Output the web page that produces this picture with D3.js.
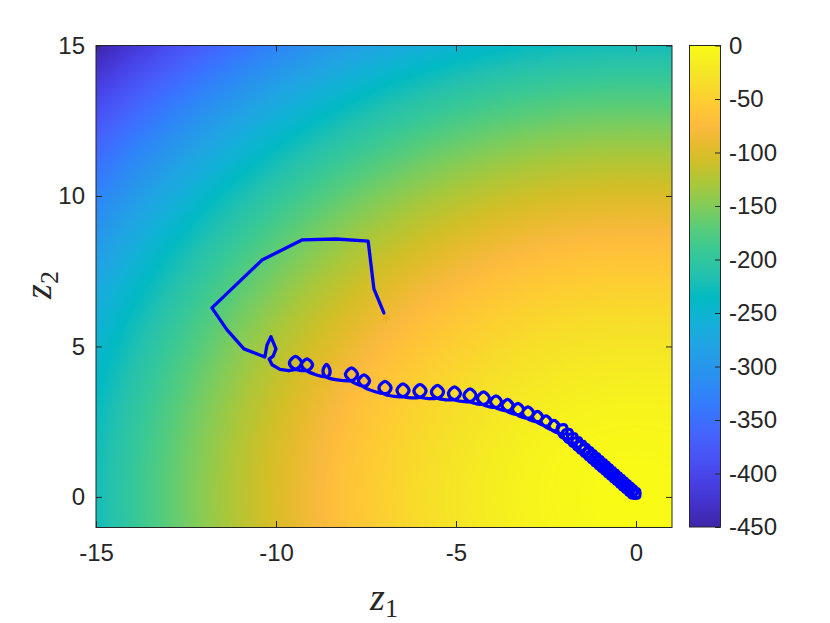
<!DOCTYPE html>
<html>
<head>
<meta charset="utf-8">
<script src="https://d3js.org/d3.v7.min.js"></script>
<style>
  body { margin: 0; background: #fff; }
  svg { display: block; }
</style>
</head>
<body>
<div id="figure"></div>
<script>
"use strict";

// grille de la surface
var gridZ1 = [-15,-14,-13,-12,-11,-10,-9,-8,-7,-6,-5,-4,-3,-2,-1,0,1];
var gridZ2 = [-1,0,1,2,3,4,5,6,7,8,9,10,11,12,13,14,15];
var surface = [
  [-226,-197,-170,-145,-122,-101,-82,-65,-50,-37,-26,-17,-10,-5,-2,-1,-2],
  [-225,-196,-169,-144,-121,-100,-81,-64,-49,-36,-25,-16,-9,-4,-1,0,-1],
  [-226,-197,-170,-145,-122,-101,-82,-65,-50,-37,-26,-17,-10,-5,-2,-1,-2],
  [-229,-200,-173,-148,-125,-104,-85,-68,-53,-40,-29,-20,-13,-8,-5,-4,-5],
  [-234,-205,-178,-153,-130,-109,-90,-73,-58,-45,-34,-25,-18,-13,-10,-9,-10],
  [-241,-212,-185,-160,-137,-116,-97,-80,-65,-52,-41,-32,-25,-20,-17,-16,-17],
  [-250,-221,-194,-169,-146,-125,-106,-89,-74,-61,-50,-41,-34,-29,-26,-25,-26],
  [-261,-232,-205,-180,-157,-136,-117,-100,-85,-72,-61,-52,-45,-40,-37,-36,-37],
  [-274,-245,-218,-193,-170,-149,-130,-113,-98,-85,-74,-65,-58,-53,-50,-49,-50],
  [-289,-260,-233,-208,-185,-164,-145,-128,-113,-100,-89,-80,-73,-68,-65,-64,-65],
  [-306,-277,-250,-225,-202,-181,-162,-145,-130,-117,-106,-97,-90,-85,-82,-81,-82],
  [-325,-296,-269,-244,-221,-200,-181,-164,-149,-136,-125,-116,-109,-104,-101,-100,-101],
  [-346,-317,-290,-265,-242,-221,-202,-185,-170,-157,-146,-137,-130,-125,-122,-121,-122],
  [-369,-340,-313,-288,-265,-244,-225,-208,-193,-180,-169,-160,-153,-148,-145,-144,-145],
  [-394,-365,-338,-313,-290,-269,-250,-233,-218,-205,-194,-185,-178,-173,-170,-169,-170],
  [-421,-392,-365,-340,-317,-296,-277,-260,-245,-232,-221,-212,-205,-200,-197,-196,-197],
  [-450,-421,-394,-369,-346,-325,-306,-289,-274,-261,-250,-241,-234,-229,-226,-225,-226]
];

// trajectoire : z1
var trajZ1 = [
  -7.00, -7.28, -7.44, -8.33, -9.28, -10.39, -11.78, -11.36, -10.89, -10.31,
  -10.25, -10.14, -10.00, -10.08, -10.19, -10.11, -9.89, -9.64,
  -9.400, -9.291, -9.458, -9.625, -9.516,
  -9.086, -8.986, -9.139, -9.292, -9.192,
  -8.563, -8.500, -8.597, -8.694, -8.631,
  -7.845, -7.736, -7.903, -8.070, -7.961,
  -7.503, -7.403, -7.556, -7.709, -7.609,
  -6.914, -6.805, -6.972, -7.139, -7.030,
  -6.414, -6.305, -6.472, -6.639, -6.530,
  -5.942, -5.833, -6.000, -6.167, -6.058,
  -5.456, -5.347, -5.514, -5.681, -5.572,
  -4.984, -4.875, -5.042, -5.209, -5.100,
  -4.553, -4.444, -4.611, -4.778, -4.669,
  -4.178, -4.069, -4.236, -4.403, -4.294,
  -3.836, -3.736, -3.889, -4.042, -3.942,
  -3.516, -3.416, -3.569, -3.722, -3.622,
  -3.225, -3.125, -3.278, -3.431, -3.331,
  -2.947, -2.847, -3.000, -3.153, -3.053,
  -2.687, -2.597, -2.736, -2.875, -2.785,
  -2.451, -2.361, -2.500, -2.639, -2.549,
  -2.229, -2.139, -2.278, -2.417, -2.327,
  -1.941, -1.945, -2.171, -2.094,
  -1.795, -1.799, -2.025, -1.953,
  -1.659, -1.663, -1.889, -1.823,
  -1.534, -1.538, -1.764, -1.703,
  -1.419, -1.423, -1.649, -1.593,
  -1.314, -1.318, -1.544, -1.488,
  -1.210, -1.214, -1.440, -1.389,
  -1.116, -1.120, -1.346, -1.295,
  -1.022, -1.026, -1.252, -1.201,
  -0.928, -0.932, -1.158, -1.107,
  -0.834, -0.838, -1.064, -1.018,
  -0.750, -0.754, -0.980, -0.935,
  -0.667, -0.671, -0.897, -0.851,
  -0.583, -0.587, -0.813, -0.768,
  -0.500, -0.504, -0.730, -0.684,
  -0.416, -0.420, -0.646, -0.600,
  -0.332, -0.336, -0.562, -0.517,
  -0.249, -0.253, -0.479, -0.433,
  -0.165, -0.169, -0.395, -0.350,
  -0.082, -0.086, -0.312, -0.266,
  0.002, -0.002, -0.228, -0.183,
  0.085, 0.081, -0.145, 0.000
];

// trajectoire : z2
var trajZ2 = [
  6.11, 6.91, 8.50, 8.57, 8.54, 7.87, 6.28, 5.55, 4.92, 4.65,
  5.05, 5.32, 4.92, 4.68, 4.58, 4.39, 4.24, 4.20,
  4.269, 4.468, 4.667, 4.468, 4.269,
  4.219, 4.402, 4.585, 4.402, 4.219,
  4.004, 4.203, 4.402, 4.203, 4.004,
  3.887, 4.086, 4.285, 4.086, 3.887,
  3.687, 3.870, 4.053, 3.870, 3.687,
  3.439, 3.638, 3.837, 3.638, 3.439,
  3.356, 3.555, 3.754, 3.555, 3.356,
  3.339, 3.538, 3.737, 3.538, 3.339,
  3.306, 3.505, 3.704, 3.505, 3.306,
  3.256, 3.455, 3.654, 3.455, 3.256,
  3.190, 3.389, 3.588, 3.389, 3.190,
  3.090, 3.289, 3.488, 3.289, 3.090,
  2.990, 3.173, 3.356, 3.173, 2.990,
  2.873, 3.056, 3.239, 3.056, 2.873,
  2.741, 2.924, 3.107, 2.924, 2.741,
  2.624, 2.807, 2.990, 2.807, 2.624,
  2.508, 2.674, 2.840, 2.674, 2.508,
  2.359, 2.525, 2.691, 2.525, 2.359,
  2.209, 2.375, 2.541, 2.375, 2.209,
  2.105, 2.377, 2.347, 1.999,
  1.952, 2.224, 2.194, 1.851,
  1.809, 2.081, 2.051, 1.714,
  1.678, 1.950, 1.920, 1.588,
  1.558, 1.830, 1.800, 1.473,
  1.448, 1.720, 1.690, 1.364,
  1.339, 1.611, 1.581, 1.260,
  1.240, 1.512, 1.482, 1.161,
  1.142, 1.414, 1.384, 1.063,
  1.043, 1.315, 1.285, 0.964,
  0.945, 1.217, 1.187, 0.871,
  0.857, 1.129, 1.099, 0.784,
  0.770, 1.042, 1.012, 0.696,
  0.682, 0.954, 0.924, 0.609,
  0.595, 0.867, 0.837, 0.521,
  0.507, 0.779, 0.749, 0.433,
  0.419, 0.691, 0.661, 0.346,
  0.332, 0.604, 0.574, 0.258,
  0.244, 0.516, 0.486, 0.171,
  0.157, 0.429, 0.399, 0.083,
  0.069, 0.341, 0.311, -0.004,
  -0.018, 0.254, 0.224, 0.000
];
var nPolyligne = 18; // premiers points traces en segments droits

// point de depart (asterisque)
var departZ1 = [-6.94];
var departZ2 = [5.95];

// graduations
var xTicks = [-15, -10, -5, 0];
var yTicks = [0, 5, 10, 15];
var cTicks = [0, -50, -100, -150, -200, -250, -300, -350, -400, -450];

// carte de couleurs parula (echantillons)
var parula = [
  [0.000, "#3e26a8"], [0.048, "#4332cb"], [0.095, "#4741e5"], [0.143, "#4852f4"],
  [0.190, "#4563fd"], [0.238, "#3875fe"], [0.286, "#2e87f7"], [0.333, "#2796eb"],
  [0.381, "#20a5e3"], [0.429, "#12b1d6"], [0.476, "#02bac3"], [0.524, "#24c1ae"],
  [0.571, "#37c897"], [0.619, "#57cc7a"], [0.667, "#81cc59"], [0.714, "#abc739"],
  [0.762, "#d1bf27"], [0.794, "#e6bb2d"], [0.825, "#f8ba3d"], [0.841, "#febe3c"],
  [0.873, "#fec934"], [0.905, "#fad62d"], [0.937, "#f5e327"], [0.968, "#f6ef20"],
  [1.000, "#f9fb15"]
];

var larg = 830, haut = 623;
var gris = "#262626";
var police = "'Liberation Sans', Arial, Helvetica, sans-serif";
var policeMath = "'Liberation Serif', 'DejaVu Serif', serif";
var taillePolice = 24;
var lTick = 6;
var epaisseur = 3.3; // epaisseur de la trajectoire

function draw() {
  var svg = d3.select("#figure").append("svg")
    .attr("width", larg)
    .attr("height", haut);

  svg.append("rect").attr("width", larg).attr("height", haut).attr("fill", "#fff");

  var x = d3.scaleLinear().domain([-15, 1]).range([96, 672]);
  var y = d3.scaleLinear().domain([-1, 15]).range([527, 45.5]);
  var cEchelle = d3.scaleLinear().domain([-450, 0]).range([527, 45.5]);

  var vmin = -450, vmax = 0;
  var couleur = d3.scaleLinear()
    .domain(parula.map(function(p){ return vmin + (vmax - vmin) * p[0]; }))
    .range(parula.map(function(p){ return p[1]; }))
    .clamp(true);

  // table de couleurs
  var nLut = 1024, lut = [];
  for (var n = 0; n < nLut; n++) {
    lut.push(d3.rgb(couleur(vmin + (vmax - vmin) * n / (nLut - 1))));
  }

  // surface coloree (ombrage interpole)
  var x0 = x.range()[0], y0 = y.range()[1];
  var cw = Math.round(x.range()[1] - x0), chh = Math.round(y.range()[0] - y0);
  var canvas = document.createElement("canvas");
  canvas.width = cw; canvas.height = chh;
  var ctx = canvas.getContext("2d");
  var img = ctx.createImageData(cw, chh);
  var pasX = gridZ1[1] - gridZ1[0], pasY = gridZ2[1] - gridZ2[0];
  for (var j = 0; j < chh; j++) {
    var fy = (y.invert(y0 + j + 0.5) - gridZ2[0]) / pasY;
    var jy = Math.min(Math.max(Math.floor(fy), 0), gridZ2.length - 2);
    var ty = fy - jy;
    for (var i = 0; i < cw; i++) {
      var fx = (x.invert(x0 + i + 0.5) - gridZ1[0]) / pasX;
      var ix = Math.min(Math.max(Math.floor(fx), 0), gridZ1.length - 2);
      var tx = fx - ix;
      var v = (1 - ty) * ((1 - tx) * surface[jy][ix] + tx * surface[jy][ix + 1]) +
              ty * ((1 - tx) * surface[jy + 1][ix] + tx * surface[jy + 1][ix + 1]);
      var k = Math.round((v - vmin) / (vmax - vmin) * (nLut - 1));
      k = Math.min(Math.max(k, 0), nLut - 1);
      var col = lut[k], p = (j * cw + i) * 4;
      img.data[p] = col.r; img.data[p + 1] = col.g; img.data[p + 2] = col.b; img.data[p + 3] = 255;
    }
  }
  ctx.putImageData(img, 0, 0);

  svg.append("image")
    .attr("href", canvas.toDataURL())
    .attr("x", x0).attr("y", y0)
    .attr("width", cw).attr("height", chh)
    .attr("preserveAspectRatio", "none");

  // clip de la zone de trace
  var defs = svg.append("defs");
  defs.append("clipPath").attr("id", "zone")
    .append("rect").attr("x", x0).attr("y", y0).attr("width", cw).attr("height", chh);

  // trajectoire
  var pts = trajZ1.map(function(d, i){ return [x(d), y(trajZ2[i])]; });
  var g = svg.append("g").attr("clip-path", "url(#zone)");
  g.append("path")
    .attr("d", d3.line()(pts.slice(0, nPolyligne)))
    .attr("fill", "none").attr("stroke", "#0000ff")
    .attr("stroke-width", epaisseur).attr("stroke-linejoin", "round").attr("stroke-linecap", "round");
  g.append("path")
    .attr("d", d3.line().curve(d3.curveCatmullRom.alpha(0.5))(pts.slice(nPolyligne - 1)))
    .attr("fill", "none").attr("stroke", "#0000ff")
    .attr("stroke-width", epaisseur).attr("stroke-linejoin", "round").attr("stroke-linecap", "round");

  // asterisque au depart
  g.selectAll("path.depart")
    .data(departZ1)
    .enter().append("path")
    .attr("class", "depart")
    .attr("transform", function(d, i){ return "translate(" + x(d) + "," + y(departZ2[i]) + ")"; })
    .attr("d", d3.symbol(d3.symbolAsterisk, 70)())
    .attr("fill", "none").attr("stroke", "#edb120").attr("stroke-width", 1.2);

  // axes
  function style(sel) {
    sel.select(".domain").remove();
    sel.selectAll(".tick line").attr("stroke", gris).attr("stroke-width", 1);
    sel.selectAll(".tick text").attr("fill", gris)
      .attr("font-family", police).attr("font-size", taillePolice);
  }

  svg.append("g").attr("transform", "translate(0," + y.range()[0] + ")")
    .call(d3.axisBottom(x).tickValues(xTicks).tickSize(-lTick).tickPadding(17)
      .tickFormat(function(d){ return String(d); }))
    .call(style);
  svg.append("g").attr("transform", "translate(0," + y0 + ")")
    .call(d3.axisTop(x).tickValues(xTicks).tickSize(-lTick).tickFormat(""))
    .call(style);
  svg.append("g").attr("transform", "translate(" + x0 + ",0)")
    .call(d3.axisLeft(y).tickValues(yTicks).tickSize(-lTick).tickPadding(11))
    .call(style);
  svg.append("g").attr("transform", "translate(" + x.range()[1] + ",0)")
    .call(d3.axisRight(y).tickValues(yTicks).tickSize(-lTick).tickFormat(""))
    .call(style);

  svg.append("rect")
    .attr("x", x0).attr("y", y0).attr("width", cw).attr("height", chh)
    .attr("fill", "none").attr("stroke", gris).attr("stroke-width", 1);

  // barre de couleurs
  var cbX = 689.5, cbL = 31;
  var grad = defs.append("linearGradient").attr("id", "degrade")
    .attr("x1", 0).attr("y1", 1).attr("x2", 0).attr("y2", 0);
  grad.selectAll("stop").data(parula).enter().append("stop")
    .attr("offset", function(d){ return d[0]; })
    .attr("stop-color", function(d){ return d[1]; });

  svg.append("rect")
    .attr("x", cbX).attr("y", cEchelle(0))
    .attr("width", cbL).attr("height", cEchelle(-450) - cEchelle(0))
    .attr("fill", "url(#degrade)")
    .attr("stroke", gris).attr("stroke-width", 1);

  svg.append("g").attr("transform", "translate(" + (cbX + cbL) + ",0)")
    .call(d3.axisRight(cEchelle).tickValues(cTicks).tickSize(-5.5).tickPadding(8.5)
      .tickFormat(function(d){ return String(d); }))
    .call(style);

  // titres des axes
  var tx1 = svg.append("text")
    .attr("x", 384).attr("y", 610)
    .attr("text-anchor", "middle").attr("fill", gris)
    .attr("font-family", policeMath);
  tx1.append("tspan").attr("font-style", "italic").attr("font-size", 38).text("z");
  tx1.append("tspan").attr("font-size", 26).attr("dy", 7).text("1");

  var ty2 = svg.append("text")
    .attr("transform", "translate(51,285) rotate(-90)")
    .attr("text-anchor", "middle").attr("fill", gris)
    .attr("font-family", policeMath);
  ty2.append("tspan").attr("font-style", "italic").attr("font-size", 38).text("z");
  ty2.append("tspan").attr("font-size", 26).attr("dy", 7).text("2");
}

draw();
</script>
</body>
</html>
